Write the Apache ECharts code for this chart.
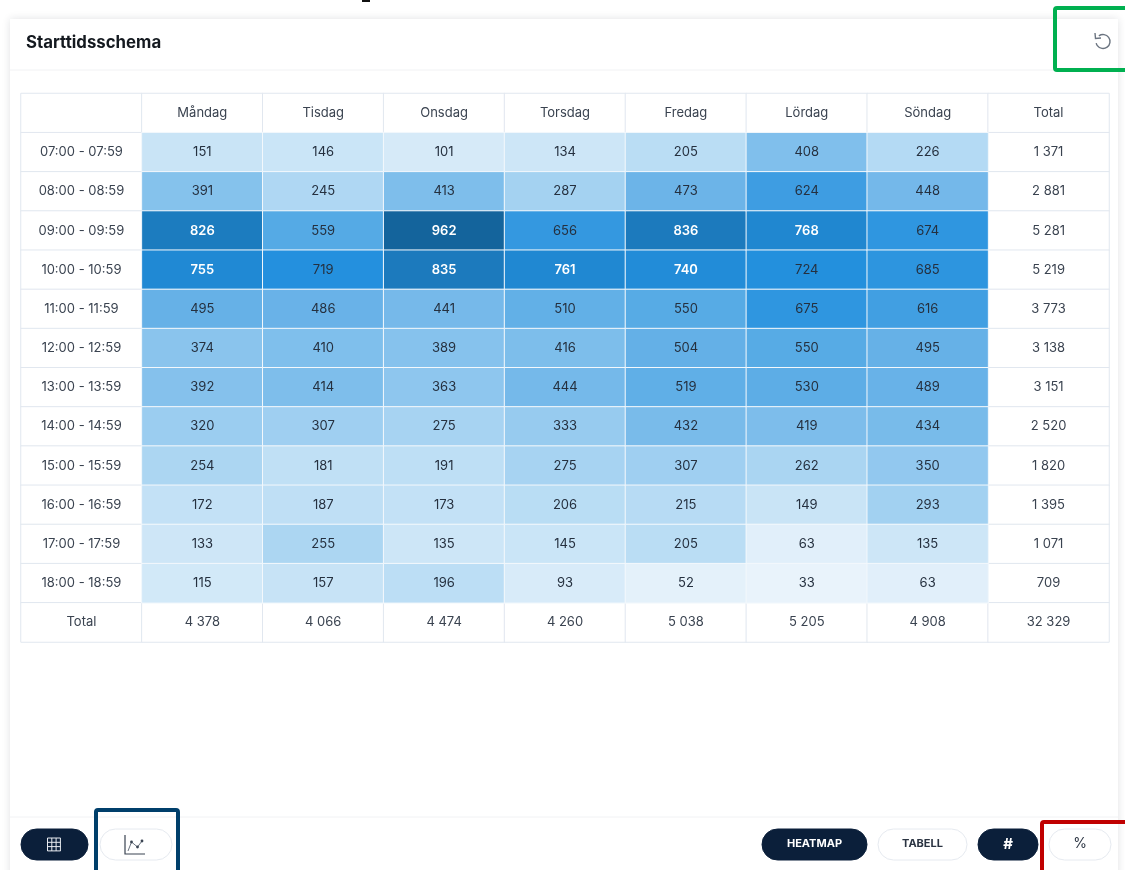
<!DOCTYPE html>
<html>
<head>
<meta charset="utf-8">
<title>Starttidsschema</title>
<script src="https://cdn.jsdelivr.net/npm/echarts@6/dist/echarts.min.js"></script>
<style>
  html, body { margin: 0; padding: 0; background: #fff; }
  #chart { width: 1125px; height: 870px; }
</style>
</head>
<body>
<div id="chart"></div>
<script>
const days = ['Måndag', 'Tisdag', 'Onsdag', 'Torsdag', 'Fredag', 'Lördag', 'Söndag']
const hours = ['07:00 - 07:59', '08:00 - 08:59', '09:00 - 09:59', '10:00 - 10:59', '11:00 - 11:59', '12:00 - 12:59',
  '13:00 - 13:59', '14:00 - 14:59', '15:00 - 15:59', '16:00 - 16:59', '17:00 - 17:59', '18:00 - 18:59']

const mandag = [151, 391, 826, 755, 495, 374, 392, 320, 254, 172, 133, 115]
const tisdag = [146, 245, 559, 719, 486, 410, 414, 307, 181, 187, 255, 157]
const onsdag = [101, 413, 962, 835, 441, 389, 363, 275, 191, 173, 135, 196]
const torsdag = [134, 287, 656, 761, 510, 416, 444, 333, 275, 206, 145, 93]
const fredag = [205, 473, 836, 740, 550, 504, 519, 432, 307, 215, 205, 52]
const lordag = [408, 624, 768, 724, 675, 550, 530, 419, 262, 149, 63, 33]
const sondag = [226, 448, 674, 685, 616, 495, 489, 434, 350, 293, 135, 63]
const dayValues = [mandag, tisdag, onsdag, torsdag, fredag, lordag, sondag]

const rowTotals = ['1 371', '2 881', '5 281', '5 219', '3 773', '3 138', '3 151', '2 520', '1 820', '1 395', '1 071', '709']
const colTotals = ['4 378', '4 066', '4 474', '4 260', '5 038', '5 205', '4 908']
const grandTotal = '32 329'

const colCats = ['', ...days, 'Total']
const rowCats = ['', ...hours, 'Total']
const FONT = 'Inter, "Noto Sans", sans-serif'
const NAVY = '#0b1f3a'

// heat cells
const heatData = []
dayValues.forEach((col, x) => {
  col.forEach((v, y) => {
    const strong = v >= 740
    heatData.push({
      value: [x + 1, y + 1, v],
      label: { color: strong ? '#fff' : '#25303f', fontWeight: strong ? 600 : 'normal' }
    })
  })
})

// white cells: header row, hour column and totals
const textData = []
const textCell = (x, y, text) => textData.push({ value: [x, y, 0], name: text })
colCats.forEach((c, x) => textCell(x, 0, c))
hours.forEach((h, i) => {
  textCell(0, i + 1, h)
  textCell(8, i + 1, rowTotals[i])
})
textCell(0, 13, 'Total')
colTotals.forEach((t, i) => textCell(i + 1, 13, t))
textCell(8, 13, grandTotal)

function pill(x, w, dark, text, font) {
  const items = [{
    type: 'rect',
    shape: { x: x, y: 829, width: w, height: 31, r: 15.5 },
    style: { fill: dark ? NAVY : '#fff', stroke: dark ? NAVY : '#e6eaf0', lineWidth: 1 },
    z: 5
  }]
  if (text) {
    items.push({
      type: 'text',
      x: x + w / 2,
      y: 844,
      style: { text: text, fill: dark ? '#fff' : '#2b3442', font: font || ('bold 11px ' + FONT), align: 'center', verticalAlign: 'middle' },
      z: 6
    })
  }
  return items
}

function frame(x, y, w, h, color) {
  return {
    type: 'rect',
    shape: { x: x, y: y, width: w, height: h, r: 2 },
    style: { fill: 'none', stroke: color, lineWidth: 4 },
    z: 8
  }
}

function line(x1, y1, x2, y2, color, width) {
  return {
    type: 'line',
    shape: { x1: x1, y1: y1, x2: x2, y2: y2 },
    style: { stroke: color, lineWidth: width || 1 },
    z: 7
  }
}

function dot(x, y) {
  return { type: 'circle', shape: { cx: x, cy: y, r: 1.4 }, style: { fill: '#3a4452' }, z: 7 }
}

const gridIcon = []
for (let i = 0; i < 4; i++) {
  gridIcon.push(line(47.5 + i * 4.3, 838, 47.5 + i * 4.3, 851, '#e8ebf0'))
  gridIcon.push(line(47.5, 838 + i * 4.3, 60.5, 838 + i * 4.3, '#e8ebf0'))
}

const graphics = [
  {
    type: 'rect',
    shape: { x: 10, y: 19, width: 1108, height: 860 },
    style: { fill: '#fff', shadowBlur: 8, shadowColor: 'rgba(20,30,50,0.13)' },
    z: 0
  },
  line(10, 70, 1118, 70, '#f1f2f4'),
  line(10, 817, 1118, 817, '#f1f2f4'),
  {
    type: 'rect',
    shape: { x: 362, y: 0, width: 8, height: 2 },
    style: { fill: '#111' },
    z: 7
  },
  {
    type: 'text',
    x: 26,
    y: 43,
    style: { text: 'Starttidsschema', fill: '#14191f', font: 'bold 16.8px ' + FONT, verticalAlign: 'middle' },
    z: 6
  },
  // reset icon
  {
    type: 'arc',
    shape: { cx: 1103, cy: 41.5, r: 7, startAngle: -2.2, endAngle: 2.9, clockwise: true },
    style: { fill: 'none', stroke: '#6b7480', lineWidth: 1.4 },
    z: 7
  },
  {
    type: 'polyline',
    shape: { points: [[1095, 33], [1095.5, 38.5], [1101, 38]] },
    style: { fill: 'none', stroke: '#6b7480', lineWidth: 1.4 },
    z: 7
  },
  ...pill(21, 67, true),
  ...gridIcon,
  ...pill(100, 72, false),
  // chart icon
  {
    type: 'polyline',
    shape: { points: [[125, 835], [125, 854], [145, 854]] },
    style: { fill: 'none', stroke: '#3a4452', lineWidth: 1.2 },
    z: 7
  },
  {
    type: 'polyline',
    shape: { points: [[128, 851], [131.5, 842], [137.5, 847], [142, 841]] },
    style: { fill: 'none', stroke: '#6b7480', lineWidth: 1 },
    z: 7
  },
  dot(131.5, 842),
  dot(137.5, 847),
  dot(142, 841),
  ...pill(762, 105, true, 'HEATMAP'),
  ...pill(878, 89, false, 'TABELL'),
  ...pill(978, 60, true, '#', 'bold 15px ' + FONT),
  ...pill(1049, 62, false, '%', '14px ' + FONT),
  frame(1055, 8, 80, 62, '#00b050'),
  frame(96, 810, 82, 70, '#003f6b'),
  frame(1042, 822, 100, 60, '#c00000')
]

const chart = echarts.init(document.getElementById('chart'))
chart.setOption({
  animation: false,
  backgroundColor: '#fff',
  graphic: { elements: graphics },
  grid: { left: 21, right: 16, top: 93.5, bottom: 228 },
  xAxis: {
    type: 'category',
    data: colCats,
    position: 'top',
    axisLine: { show: false },
    axisTick: { show: false },
    axisLabel: { show: false },
    splitLine: { show: false },
    splitArea: { show: false }
  },
  yAxis: {
    type: 'category',
    data: rowCats,
    inverse: true,
    axisLine: { show: false },
    axisTick: { show: false },
    axisLabel: { show: false },
    splitLine: { show: false },
    splitArea: { show: false }
  },
  visualMap: {
    show: false,
    seriesIndex: 1,
    dimension: 2,
    min: 0,
    max: 962,
    inRange: {
      color: ['#f2f8fd', '#dcedf9', '#c6e3f6', '#b0d8f3', '#9bcdf0', '#82c0ec', '#6ab3e8',
        '#54aae5', '#389ae1', '#2390de', '#1d80c6', '#1a72b0', '#14649c']
    }
  },
  series: [
    {
      name: 'Etiketter',
      type: 'heatmap',
      data: textData,
      itemStyle: { color: '#fff', borderColor: '#e1e7ef', borderWidth: 1 },
      label: { show: true, formatter: '{b}', color: '#3a4350', fontFamily: FONT, fontSize: 13 },
      emphasis: { disabled: true }
    },
    {
      name: 'Starter',
      type: 'heatmap',
      data: heatData,
      itemStyle: { borderColor: '#f3f8fc', borderWidth: 1 },
      label: { show: true, fontFamily: FONT, fontSize: 13 },
      emphasis: { disabled: true }
    }
  ]
})
</script>
</body>
</html>
